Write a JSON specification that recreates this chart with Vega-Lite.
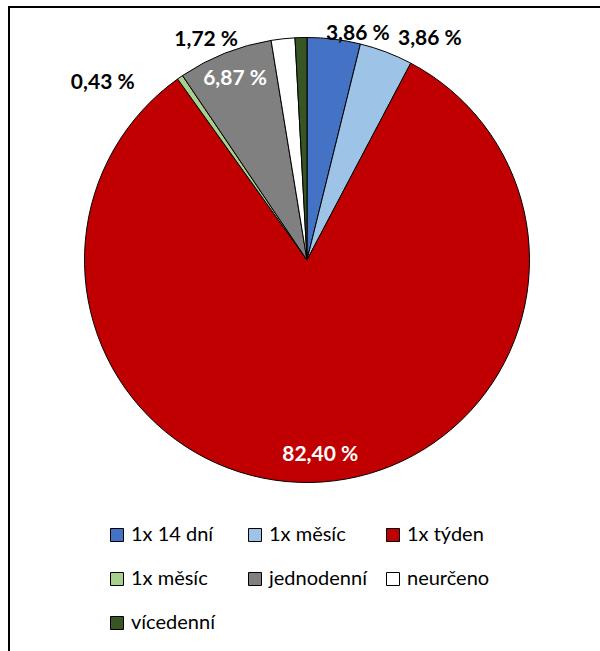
{
  "$schema": "https://vega.github.io/schema/vega-lite/v6.json",
  "width": 640,
  "height": 700,
  "autosize": {"type": "none"},
  "padding": {"left": 9, "top": 7, "right": -49, "bottom": -56},
  "background": "white",
  "view": {"stroke": "black", "strokeWidth": 2, "fill": "white", "strokeDash": [640, 1340, 700, 20]},
  "config": {
    "font": "Lato"
  },
  "data": {
    "values": [
      {"kategorie": "1x 14 dní", "hodnota": 3.86, "popisek": "3,86 %", "poradi": 1},
      {"kategorie": "1x měsíc", "hodnota": 3.86, "popisek": "3,86 %", "poradi": 2},
      {"kategorie": "1x týden", "hodnota": 82.40, "popisek": "82,40 %", "poradi": 3},
      {"kategorie": "1x měsíc ", "hodnota": 0.43, "popisek": "0,43 %", "poradi": 4},
      {"kategorie": "jednodenní", "hodnota": 6.87, "popisek": "6,87 %", "poradi": 5},
      {"kategorie": "neurčeno", "hodnota": 1.72, "popisek": "1,72 %", "poradi": 6},
      {"kategorie": "vícedenní", "hodnota": 0.86, "popisek": "", "poradi": 7}
    ]
  },
  "encoding": {
    "theta": {"field": "hodnota", "type": "quantitative", "stack": true},
    "order": {"field": "poradi", "type": "quantitative"}
  },
  "layer": [
    {
      "mark": {"type": "arc", "outerRadius": 222.5, "stroke": "black", "strokeWidth": 1, "x": 298, "y": 253},
      "encoding": {
        "color": {
          "field": "kategorie",
          "type": "nominal",
          "sort": null,
          "scale": {
            "domain": ["1x 14 dní", "1x měsíc", "1x týden", "1x měsíc ", "jednodenní", "neurčeno", "vícedenní"],
            "range": ["#4472C4", "#9DC3E6", "#C00000", "#A9D18E", "#808080", "#FFFFFF", "#375623"]
          },
          "legend": {
            "title": null,
            "orient": "none",
            "direction": "horizontal",
            "legendX": 98,
            "legendY": 518,
            "columns": 3,
            "gridAlign": "all",
            "columnPadding": 16,
            "rowPadding": 24,
            "padding": 0,
            "symbolType": "square",
            "symbolSize": 169,
            "symbolStrokeColor": "black",
            "symbolStrokeWidth": 1,
            "labelFont": "Lato",
            "labelFontSize": 20,
            "labelColor": "black",
            "labelOffset": 4,
            "labelLimit": 300
          }
        }
      }
    },
    {
      "mark": {"type": "text", "radius": 195, "x": 298, "y": 253, "font": "Lato", "fontSize": 21, "fontWeight": "bold", "color": "white", "baseline": "middle", "align": "center"},
      "encoding": {
        "text": {"condition": {"test": "datum.poradi === 3 || datum.poradi === 5", "field": "popisek"}, "value": ""}
      }
    },
    {
      "mark": {"type": "text", "radius": 230, "x": 298, "y": 253, "dx": 23, "dy": 2, "font": "Lato", "fontSize": 21, "fontWeight": "bold", "color": "black", "baseline": "middle", "align": "center"},
      "encoding": {
        "text": {"condition": {"test": "datum.poradi === 1", "field": "popisek"}, "value": ""}
      }
    },
    {
      "mark": {"type": "text", "radius": 230, "x": 298, "y": 253, "dx": 41, "dy": -6, "font": "Lato", "fontSize": 21, "fontWeight": "bold", "color": "black", "baseline": "middle", "align": "center"},
      "encoding": {
        "text": {"condition": {"test": "datum.poradi === 2", "field": "popisek"}, "value": ""}
      }
    },
    {
      "mark": {"type": "text", "radius": 230, "x": 298, "y": 253, "dx": -73, "dy": 12, "font": "Lato", "fontSize": 21, "fontWeight": "bold", "color": "black", "baseline": "middle", "align": "center"},
      "encoding": {
        "text": {"condition": {"test": "datum.poradi === 4", "field": "popisek"}, "value": ""}
      }
    },
    {
      "mark": {"type": "text", "radius": 230, "x": 298, "y": 253, "dx": -76, "dy": 9, "font": "Lato", "fontSize": 21, "fontWeight": "bold", "color": "black", "baseline": "middle", "align": "center"},
      "encoding": {
        "text": {"condition": {"test": "datum.poradi === 6", "field": "popisek"}, "value": ""}
      }
    }
  ]
}
